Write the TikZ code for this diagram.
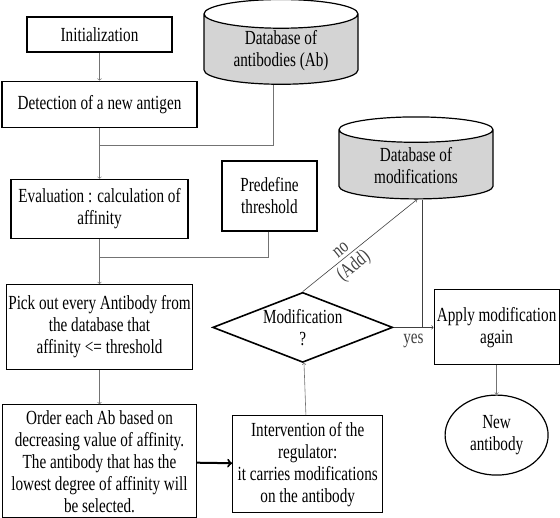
\documentclass[tikz,border=0pt]{standalone}
\usepackage{fontspec}
\setmainfont{Liberation Serif}[FakeStretch=0.76]
\usepackage{tikz}
\usetikzlibrary{positioning}
\usetikzlibrary{shapes.geometric}

\begin{document}
\begin{tikzpicture}
 [x=1pt, y=-1pt,
  font=\fontsize{20}{22}\selectfont,
  post/.style={->,>=to,semithick,black!55},
  link/.style={semithick,black!55},
  bold/.style={->,>=to,line width=2pt,black},
  stepbox/.style={rectangle,draw,line width=1.2pt,align=center,inner sep=2pt},
  store/.style={cylinder,shape border rotate=90,aspect=0.29,draw,line width=1.2pt,
                cylinder uses custom fill,cylinder body fill=black!17,cylinder end fill=white,
                align=center,minimum width=154pt,minimum height=82pt,inner sep=2pt},
  choice/.style={diamond,draw,line width=1.6pt,aspect=2.57,inner sep=0pt,align=center,
                 minimum width=180pt,minimum height=70pt},
  result/.style={ellipse,draw,line width=1.2pt,align=center,minimum width=103pt,minimum height=80pt,inner sep=0pt}]
 \useasboundingbox (0,0) rectangle (560,518);

 \node[stepbox, minimum width=145pt, minimum height=35pt] (init) at (99.5,34.5) {Initialization};
 \node[stepbox, minimum width=195pt, minimum height=46pt] (detect) [below=28pt of init] {Detection of a new antigen};
 \node[stepbox, minimum width=177pt, minimum height=59pt] (eval)   [below=51pt of detect] {Evaluation : calculation of\\affinity};
 \node[stepbox, minimum width=186pt, minimum height=85pt] (pick)   [below=45pt of eval] {Pick out every Antibody from\\the database that\\affinity <= threshold};
 \node[stepbox, minimum width=194pt, minimum height=113pt] (order) [below=34pt of pick]
   {Order each Ab based on\\decreasing value of affinity.\\The antibody that has the\\lowest degree of affinity will\\be selected.};
 \node[stepbox, minimum width=150pt, minimum height=97pt] (interv) [right=35pt of order, yshift=-3pt]
   {Intervention of the\\regulator:\\it carries modifications\\on the antibody};
 \node[choice] (dia) [above=52pt of interv, xshift=-5pt] {Modification\\?};
 \node[stepbox, minimum width=125pt, minimum height=75pt] (apply) [right=40pt of dia] {Apply modification\\again};
 \node[result] (newab) [below=29pt of apply] {New\\antibody};

 \node[stepbox, minimum width=95pt, minimum height=70pt] (thresh) at (269.5,196) {Predefine\\threshold};
 \node[store] (dbab)  at (281,51)  {Database of\\antibodies (Ab)};
 \node[store] (dbmod) at (416,166) {Database of\\modifications};

 \coordinate[below=18pt of detect.south] (join1);
 \coordinate[below=18pt of eval.south]   (join2);

 \path (init)   edge [post] (detect)
       (detect) edge [post] (eval)
       (eval)   edge [post] (pick)
       (pick)   edge [post] (order)
       (order)  edge [bold] (interv)
       (interv) edge [post] (dia)
       (dia.east) edge [post, black!75] node[below=3pt] {yes} (apply.west)
       (apply)  edge [post] (newab);

 \draw[link] ([xshift=-8pt]dbab.south) |- (join1);
 \draw[link] ([xshift=-1.5pt]thresh.south) |- (join2);
 \draw[post, black!75] (dia.north) --
     node[sloped, above, pos=0.38, inner sep=3pt] {no}
     node[sloped, below, pos=0.38, inner sep=3pt] {(Add)} ([xshift=1pt]dbmod.south);
 \draw[link, black!75] ([xshift=6pt]dbmod.south) -- ([xshift=6pt]dbmod.south |- dia.east);
\end{tikzpicture}
\end{document}
